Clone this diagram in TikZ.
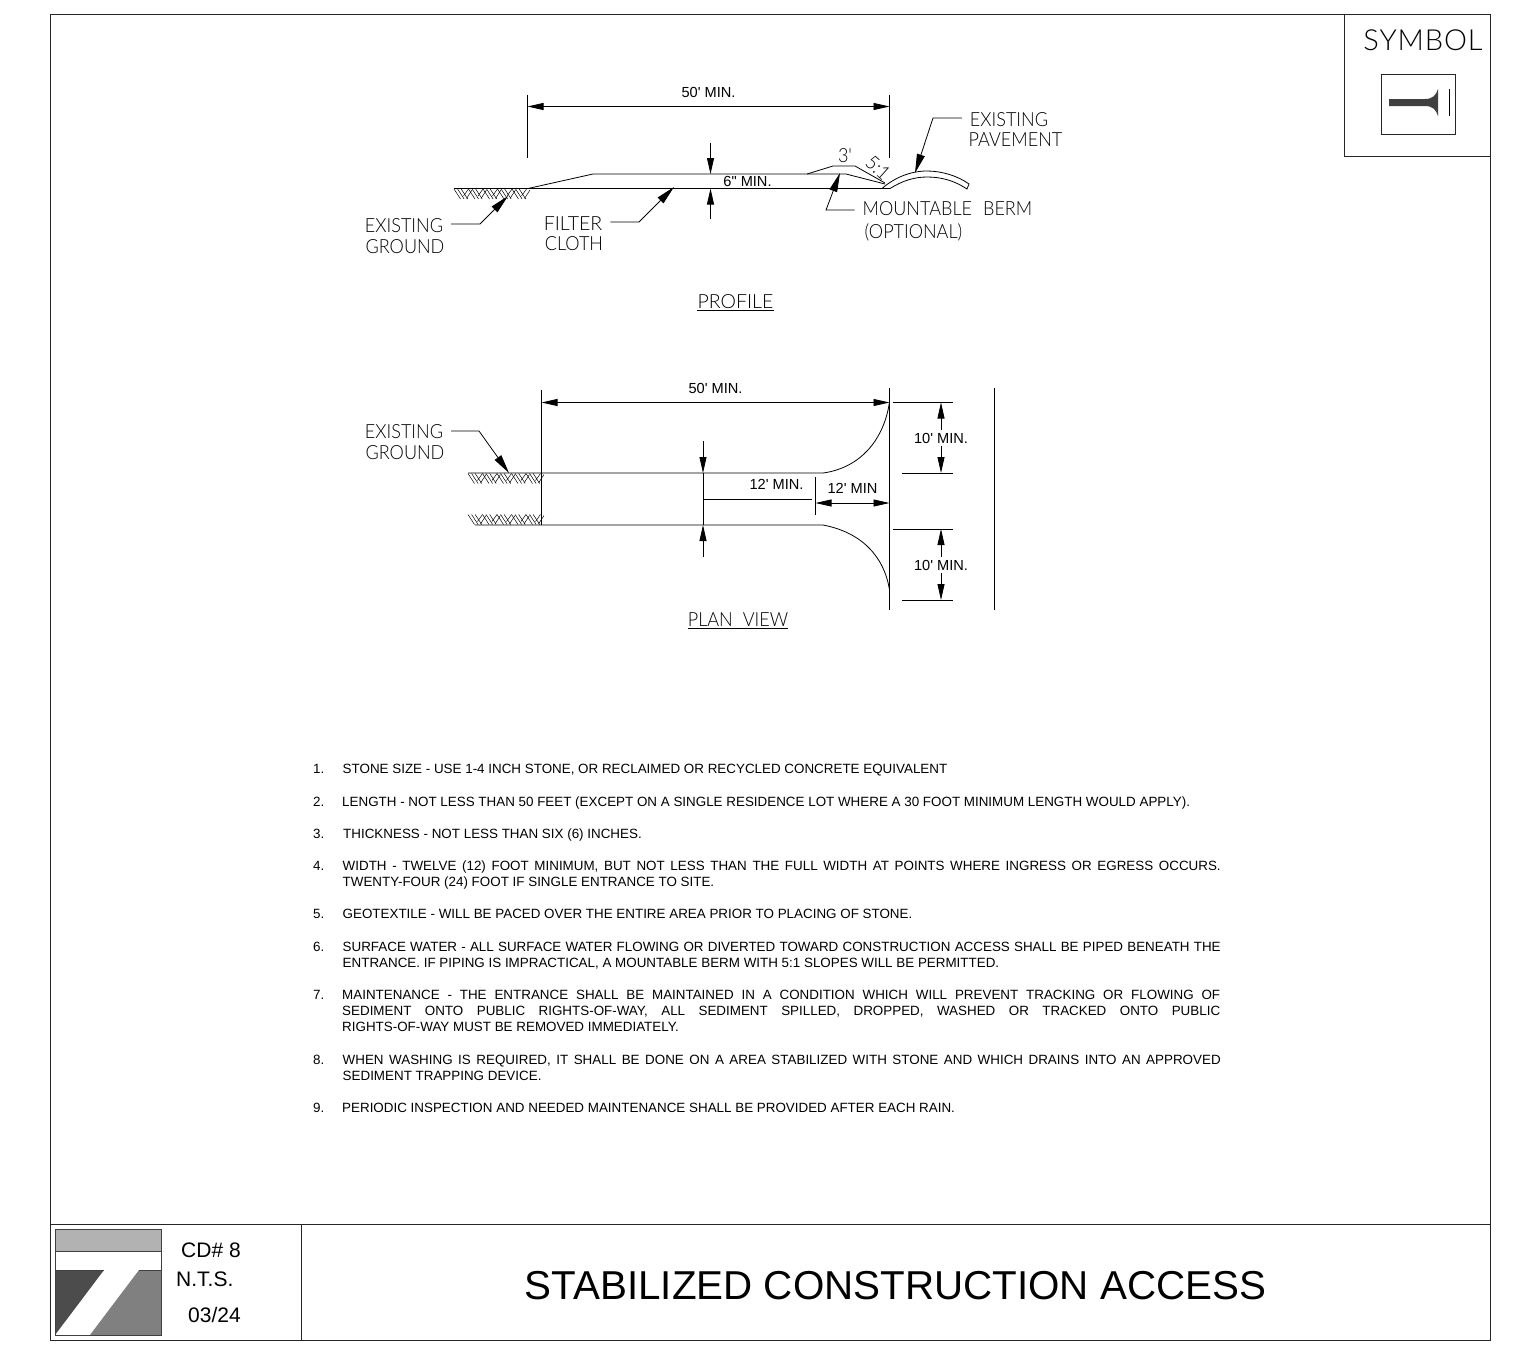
\documentclass[tikz,border=0pt]{standalone}
\usepackage{fontspec}
\setmainfont{Liberation Sans}
\newfontfamily\dimfont{Liberation Sans}
\newfontfamily\cadfont[FakeStretch=0.925]{Lato Light}
\newfontfamily\cadwide{Lato Light}
\newfontfamily\symbolfont[LetterSpace=3]{Lato Light}
\usetikzlibrary{arrows.meta, positioning, calc}
\newcommand{\justline}[1]{\makebox[878pt][s]{#1}}
\tikzset{
    outline/.style={draw=black!85, line width=0.9pt},
    dimline/.style={line width=0.8pt, -{Stealth[length=16pt, width=7pt, inset=0pt]}},
    dimboth/.style={line width=0.8pt, {Stealth[length=16pt, width=7pt, inset=0pt]}-{Stealth[length=16pt, width=7pt, inset=0pt]}},
    plainline/.style={line width=0.8pt},
    leader/.style={line width=0.8pt, shorten <=8pt, -{Stealth[length=19pt, width=8pt, inset=0pt]}},
    cadlabel/.style={inner sep=0pt, font=\cadfont\fontsize{19.5}{21}\selectfont},
    cadtitle/.style={inner sep=0pt, font=\cadwide\fontsize{19.5}{21}\selectfont},
    dimtext/.style={inner sep=0pt, font=\dimfont\fontsize{14.6}{16}\selectfont},
    notenum/.style={inner sep=0pt, anchor=north west, font=\fontsize{13.4}{16.3}\selectfont, execute at begin node={\rule{0pt}{11pt}}},
    notetext/.style={notenum, align=left},
    stamp/.style={inner sep=0pt, anchor=base west, font=\fontsize{21}{24}\selectfont},
    hatchline/.style={line width=0.5pt},
    pics/groundhatch/.style={code={
        \foreach \u in {0,14.5,...,60} {
            \foreach \v in {0,3.6,7.2} {
                \draw[hatchline] (\u+\v,0) -- (\u+\v+6.5,10);
            }
            \draw[hatchline] (\u+14.5,0) -- (\u+9.5,7);
            \draw[hatchline] (\u+18,1) -- (\u+12.5,9.5);
        }
    }},
}
\begin{document}
\begin{tikzpicture}[x=1pt,y=-1pt]
\useasboundingbox (0,0) rectangle (1521,1352);

% Sheet frame
\draw[outline] (50,14) rectangle (1490,1340);
\draw[outline] (50,1224) -- (1490,1224);
\draw[outline] (301,1224) -- (301,1340);

% Symbol box
\draw[outline] (1344,14) -- (1344,156) -- (1490,156);
\node[inner sep=0pt,font=\symbolfont\fontsize{29}{32}\selectfont] (symboltitle) at (1423,40) {SYMBOL};
\draw[outline] (1381,74) rectangle (1455,134);
\fill[black!75] (1389,99) -- (1425,99) .. controls (1433,99) and (1436,95) .. (1438,89) -- (1438,116) .. controls (1436,110) and (1433,106) .. (1425,106) -- (1389,106) -- cycle;
\draw[plainline] (1449,89) -- (1449,116);

% Profile
\draw[plainline] (527.5,95) -- (527.5,158);
\draw[plainline] (889.5,95) -- (889.5,158);
\coordinate (ptopl) at (527.5,106.5);
\coordinate (ptopr) at (889.5,106.5);
\draw[dimboth] (ptopl) -- (ptopr);
\node[dimtext] (p50) at (708.5,92) {50' MIN.};
\pic at (454,189) {groundhatch};
\draw[plainline] (454,188.5) -- (882,188.5);
\draw[plainline] (528,188.5) -- (593,174) -- (846,174) -- (885,184);
\draw[plainline] (807,174) -- (833,166) -- (855,166) -- (885,183);
\draw[plainline] (882,188.5) .. controls (894,178) and (910,171) .. (927,171) .. controls (942,171) and (958,176) .. (969,184) -- (967,189) .. controls (955,181) and (942,177) .. (927,177) .. controls (914,177) and (902,181) .. (890,188.5) -- (882,188.5);
\coordinate (p6a) at (710.5,174);
\coordinate (p6b) at (710.5,188.5);
\coordinate (p6top) at (710.5,143);
\coordinate (p6bot) at (710.5,219);
\draw[dimline] (p6top) -- (p6a);
\draw[dimline] (p6bot) -- (p6b);
\node[dimtext] (p6) at (747.5,181.5) {6" MIN.};
\node[cadlabel] (pslope) at (845,156) {3'};
\node[cadlabel,rotate=-42] (prun) at (878,168) {5:1};

\node[cadlabel] (pegtop) at (404,226) {EXISTING};
\node[cadlabel] (pegbot) at (405,247) {GROUND};
\coordinate (pegtip) at (508,196);
\draw[leader] ([yshift=2pt]pegtop.east) -- (480,224) -- (pegtip);
\node[cadtitle] (pfctop) at (573,224) {FILTER};
\node[cadlabel] (pfcbot) at (574,244) {CLOTH};
\coordinate (pfctip) at (674,187);
\draw[leader] ([yshift=2pt]pfctop.east) -- (639,222) -- (pfctip);
\node[cadlabel] (pavetop) at (1009,120) {EXISTING};
\node[cadlabel] (pavebot) at (1015.5,140) {PAVEMENT};
\coordinate (pavetip) at (915,173);
\draw[leader] ([yshift=2pt]pavetop.west) -- (933,118) -- (pavetip);
\node[cadlabel] (bermtop) at (947.5,209) {MOUNTABLE\hspace{11pt}BERM};
\node[cadlabel] (bermbot) at (913.5,232) {(OPTIONAL)};
\coordinate (bermtip) at (840,173);
\draw[leader] ([yshift=-1pt]bermtop.west) -- (826,210) -- (bermtip);
\node[cadtitle] (ptitle) at (735.5,302) {PROFILE};
\draw[plainline] (ptitle.south west) ++(0,1) -- ($(ptitle.south east)+(0,1)$);

% Plan view
\draw[plainline] (541.5,390) -- (541.5,525);
\draw[plainline] (889.5,388) -- (889.5,610);
\draw[plainline] (994.5,388) -- (994.5,610);
\coordinate (vtopl) at (541.5,402.5);
\coordinate (vtopr) at (889.5,402.5);
\draw[dimboth] (vtopl) -- (vtopr);
\node[dimtext] (v50) at (715.5,388) {50' MIN.};
\pic at (468,473.5) {groundhatch};
\pic at (468,514.5) {groundhatch};
\draw[plainline] (468,473) -- (823,473) .. controls (860,468) and (884,440) .. (889.5,402);
\draw[plainline] (475,525) -- (823,525) .. controls (860,532) and (884,555) .. (889.5,590);

\coordinate (v12a) at (703,473);
\coordinate (v12b) at (703,525);
\coordinate (v12top) at (703,441);
\coordinate (v12bot) at (703,557);
\draw[dimline] (v12top) -- (v12a);
\draw[dimline] (v12bot) -- (v12b);
\draw[plainline] (v12a) -- (v12b);
\draw[plainline] (703,499) -- (812,499);
\node[dimtext] (v12len) at (776.5,484) {12' MIN.};
\draw[plainline] (815.5,477) -- (815.5,515);
\coordinate (v12l) at (815.5,503);
\coordinate (v12r) at (889.5,503);
\draw[dimboth] (v12l) -- (v12r);
\node[dimtext] (v12min) at (852.5,488) {12' MIN};

\draw[plainline] (893,402.5) -- (953,402.5);
\draw[plainline] (902,473) -- (953,473);
\draw[plainline] (893,529) -- (953,529);
\draw[plainline] (902,600) -- (953,600);
\coordinate (r10a) at (941,402.5);
\coordinate (r10b) at (941,473);
\coordinate (r10c) at (941,529);
\coordinate (r10d) at (941,600);
\node[dimtext] (r10top) at (941,438) {10' MIN.};
\node[dimtext] (r10bot) at (941,565) {10' MIN.};
\draw[dimline] (r10top.north) ++(0,-3) -- (r10a);
\draw[dimline] (r10top.south) ++(0,3) -- (r10b);
\draw[dimline] (r10bot.north) ++(0,-3) -- (r10c);
\draw[dimline] (r10bot.south) ++(0,3) -- (r10d);

\node[cadlabel] (vegtop) at (404,432) {EXISTING};
\node[cadlabel] (vegbot) at (405,453) {GROUND};
\coordinate (vegtip) at (509,473);
\draw[leader] ([yshift=1pt]vegtop.east) -- (479,431) -- (vegtip);
\node[cadlabel] (vtitle) at (738,620) {PLAN\hspace{10pt}VIEW};
\draw[plainline] (vtitle.south west) ++(0,1) -- ($(vtitle.south east)+(0,1)$);

% Notes
\foreach \i/\y in {1/761.8,2/794.8,3/826.8,4/858.8,5/906.8,6/939.8,7/987.8,8/1052.8,9/1100.8} {
    \node[notenum] (num\i) at (313,\y) {\i.};
}
\node[notetext] (note1) at (342.5,761.8) {STONE SIZE - USE 1-4 INCH STONE, OR RECLAIMED OR RECYCLED CONCRETE EQUIVALENT};
\node[notetext] (note2) at (342,794.8) {LENGTH - NOT LESS THAN 50 FEET (EXCEPT ON A SINGLE RESIDENCE LOT WHERE A 30 FOOT MINIMUM LENGTH WOULD APPLY).};
\node[notetext] (note3) at (343,826.8) {THICKNESS - NOT LESS THAN SIX (6) INCHES.};
\node[notetext] (note4) at (342.5,860.5) {\justline{WIDTH - TWELVE (12) FOOT MINIMUM, BUT NOT LESS THAN THE FULL WIDTH AT POINTS WHERE INGRESS OR EGRESS OCCURS.}\\TWENTY-FOUR (24) FOOT IF SINGLE ENTRANCE TO SITE.};
\node[notetext] (note5) at (342.5,906.8) {GEOTEXTILE - WILL BE PACED OVER THE ENTIRE AREA PRIOR TO PLACING OF STONE.};
\node[notetext] (note6) at (342.5,941.8) {\justline{SURFACE WATER - ALL SURFACE WATER FLOWING OR DIVERTED TOWARD CONSTRUCTION ACCESS SHALL BE PIPED BENEATH THE}\\ENTRANCE. IF PIPING IS IMPRACTICAL, A MOUNTABLE BERM WITH 5:1 SLOPES WILL BE PERMITTED.};
\node[notetext] (note7) at (342,989.8) {\justline{MAINTENANCE - THE ENTRANCE SHALL BE MAINTAINED IN A CONDITION WHICH WILL PREVENT TRACKING OR FLOWING OF}\\\justline{SEDIMENT ONTO PUBLIC RIGHTS-OF-WAY, ALL SEDIMENT SPILLED, DROPPED, WASHED OR TRACKED ONTO PUBLIC}\\RIGHTS-OF-WAY MUST BE REMOVED IMMEDIATELY.};
\node[notetext] (note8) at (342.5,1054.8) {\justline{WHEN WASHING IS REQUIRED, IT SHALL BE DONE ON A AREA STABILIZED WITH STONE AND WHICH DRAINS INTO AN APPROVED}\\SEDIMENT TRAPPING DEVICE.};
\node[notetext] (note9) at (342,1100.8) {PERIODIC INSPECTION AND NEEDED MAINTENANCE SHALL BE PROVIDED AFTER EACH RAIN.};

% Title block
\fill[black!30] (55,1229) rectangle (161.5,1251);
\fill[black!70] (55,1270) -- (104,1270) -- (55,1335) -- cycle;
\fill[black!50] (139,1270) -- (161.5,1270) -- (161.5,1335) -- (90,1335) -- cycle;
\draw[line width=1pt,black!75] (55,1229) rectangle (161.5,1335);
\draw[line width=1pt,black!75] (55,1251) -- (161.5,1251);
\draw[line width=1pt,black!75] (104,1270) -- (55,1270) (139,1270) -- (161.5,1270);
\node[stamp] (cdno) at (181,1257) {CD\# 8};
\node[stamp] (scale) at (176,1286) {N.T.S.};
\node[stamp] (rev) at (188,1322) {03/24};
\node[inner sep=0pt,font=\fontsize{40.35}{46}\selectfont] (title) at (895.5,1286) {STABILIZED CONSTRUCTION ACCESS};
\end{tikzpicture}
\end{document}
